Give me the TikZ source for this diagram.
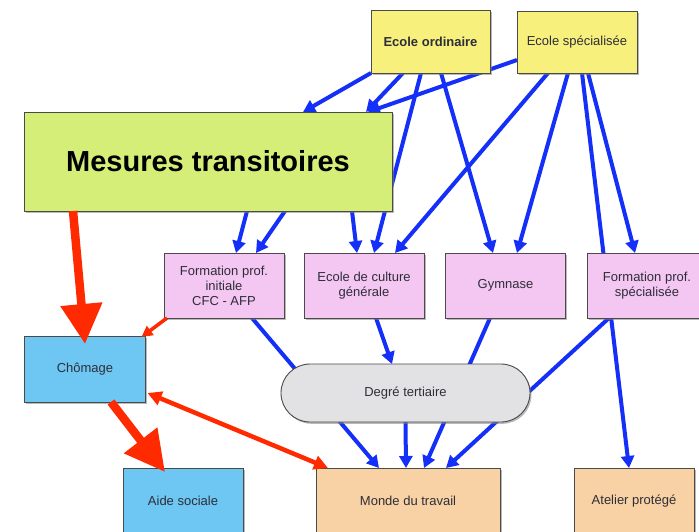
\documentclass[tikz,border=0pt]{standalone}
\usepackage{fontspec}
\setmainfont{Liberation Sans}
\usetikzlibrary{arrows.meta,shadows,backgrounds}
\definecolor{yel}{HTML}{F8F07C}
\definecolor{lime}{HTML}{D4EE78}
\definecolor{pinkb}{HTML}{F4C6F2}
\definecolor{skyb}{HTML}{6EC6F2}
\definecolor{peach}{HTML}{F8D2A4}
\definecolor{greyp}{HTML}{E2E2E4}
\definecolor{arrblue}{HTML}{1430F8}
\definecolor{arrred}{HTML}{FF2A00}
\definecolor{boxline}{HTML}{4A4A4A}
\definecolor{txt}{HTML}{2E2E38}
\begin{document}
\begin{tikzpicture}[x=1pt,y=-1pt,
  box/.style={draw=boxline, line width=0.9pt, rectangle, inner sep=0pt, outer sep=0pt,
    align=center, text=txt, font=\fontsize{13}{15}\selectfont,
    minimum width=120pt, minimum height=64pt,
    drop shadow={shadow xshift=1.5pt, shadow yshift=-1.8pt, opacity=0.55}},
  blu/.style={draw=arrblue, line width=4pt, -{Triangle[length=12pt,width=13pt]}},
  redbig/.style={draw=arrred, line width=8.5pt, -{Triangle[length=40pt,width=40pt]}},
  redthin/.style={draw=arrred, line width=3.5pt, -{Triangle[length=11pt,width=11pt]}},
  reddbl/.style={draw=arrred, line width=4.5pt, {Triangle[length=14pt,width=14pt]}-{Triangle[length=14pt,width=14pt]}}]
\useasboundingbox (0,0) rectangle (699,531);
% boxes
\node[box, fill=yel, minimum width=119pt, minimum height=63pt, font=\fontsize{13}{15}\selectfont\bfseries] (eo) at (430.5,41.5) {Ecole ordinaire};
\node[box, fill=yel, minimum height=62pt] (es) at (577,42) {Ecole spécialisée};
\node[box, fill=lime, minimum width=368pt, minimum height=99pt, text=black, font=\fontsize{29}{33}\selectfont\bfseries] (mt) at (208,161.5) {Mesures transitoires};
\node[box, fill=pinkb, minimum height=65pt] (fpi) at (224,285.5) {Formation prof.\\initiale\\CFC - AFP};
\node[box, fill=pinkb, minimum height=65pt] (ecg) at (364,285.5) {Ecole de culture\\générale};
\node[box, fill=pinkb, minimum height=65pt] (gym) at (505.5,285.5) {Gymnase};
\node[box, fill=pinkb, minimum height=65pt] (fps) at (647,285.5) {Formation prof.\\spécialisée};
\node[box, fill=skyb, minimum width=121pt, minimum height=66pt] (chom) at (85,369) {Chômage};
\node[box, fill=greyp, rounded corners=29pt, minimum width=249pt, minimum height=58pt] (dt) at (405.5,393) {Degré tertiaire};
\node[box, fill=skyb, minimum height=66pt] (aide) at (183,501) {Aide sociale};
\node[box, fill=peach, minimum width=184pt, minimum height=66pt] (mdt) at (408,501) {Monde du travail};
\node[box, fill=peach, minimum height=66pt] (atel) at (634,501) {Atelier protégé};
% blue arrows, behind the boxes
\begin{pgfonlayer}{background}
\fill[white] (0,0) rectangle (699,531);
\draw[blu] (eo.south west) -- ([xshift=95pt]mt.north);
\draw[blu] ([xshift=-27.5pt]eo.south) -- ([xshift=158pt]mt.north);
\draw[blu] ([yshift=-18pt]es.west) -- ([xshift=160pt]mt.north);
\draw[blu] ([xshift=-9.5pt]eo.south) -- ([xshift=10pt]ecg.north);
\draw[blu] ([xshift=10.5pt]eo.south) -- ([xshift=-12.5pt]gym.north);
\draw[blu] ([xshift=-29pt]es.south) -- ([xshift=31pt]ecg.north);
\draw[blu] ([xshift=-9pt]es.south) -- ([xshift=11.5pt]gym.north);
\draw[blu] ([xshift=5pt]es.south) -- ([xshift=-5pt]atel.north);
\draw[blu] ([xshift=11pt]es.south) -- ([xshift=-12pt]fps.north);
\draw[blu] ([xshift=39pt]mt.south) -- ([xshift=12pt]fpi.north);
\draw[blu] ([xshift=77pt]mt.south) -- ([xshift=32pt]fpi.north);
\draw[blu] ([xshift=144pt]mt.south) -- ([xshift=-7pt]ecg.north);
\draw[blu] ([xshift=28pt]fpi.south) -- ([xshift=-29pt]mdt.north);
\draw[blu] ([xshift=12pt]ecg.south) -- ([xshift=-13.5pt]dt.north);
\draw[blu] ([xshift=-15.5pt]gym.south) -- ([xshift=16pt]mdt.north);
\draw[blu] ([xshift=-38pt]fps.south) -- ([xshift=38pt]mdt.north);
\draw[blu] (dt.south) -- ([xshift=-2pt]mdt.north);
\end{pgfonlayer}
% red arrows
\draw[redthin] ([xshift=3pt]fpi.south west) -- ([xshift=-4pt,yshift=-1pt]chom.north east);
\draw[redbig] ([xshift=-135pt]mt.south) -- ([yshift=-8pt]chom.north);
\draw[redbig] ([xshift=26pt]chom.south) -- ([xshift=-18pt,yshift=-4pt]aide.north);
\draw[reddbl] ([xshift=2pt,yshift=-24pt]chom.east) -- ([xshift=12pt]mdt.north west);
\end{tikzpicture}
\end{document}
